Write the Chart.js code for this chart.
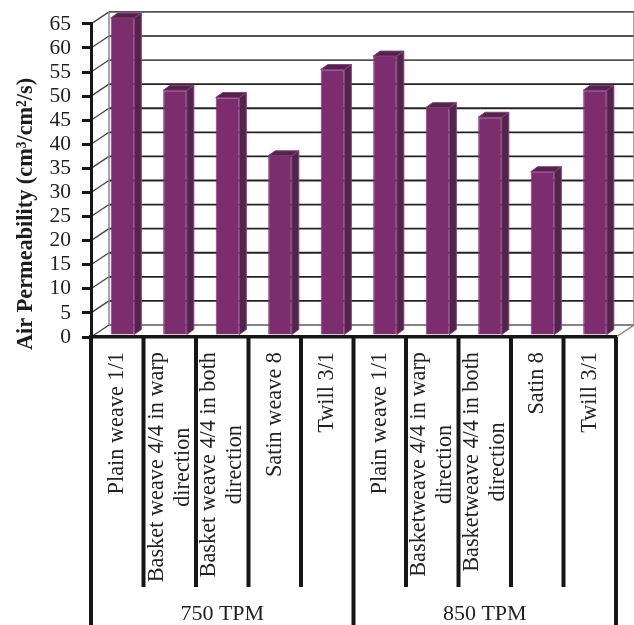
<!DOCTYPE html>
<html>
<head>
<meta charset="utf-8">
<title>Air Permeability</title>
<script src="https://cdn.jsdelivr.net/npm/chart.js@4"></script>
<style>
  html, body { margin: 0; padding: 0; background: #fff; }
  canvas { display: block; }
</style>
</head>
<body>
<canvas id="air-chart" width="634" height="625"></canvas>
<script>
// ----------------------- Data ----------------------------------
const weaveLabels = [
  ['Plain weave 1/1'],
  ['Basket weave 4/4 in warp', 'direction'],
  ['Basket weave 4/4 in both', 'direction'],
  ['Satin weave 8'],
  ['Twill 3/1'],
  ['Plain weave 1/1'],
  ['Basketweave 4/4 in warp', 'direction'],
  ['Basketweave 4/4 in both', 'direction'],
  ['Satin 8'],
  ['Twill 3/1']
];
const airPermeability = [65.8, 50.8, 49.3, 37.2, 55.1, 57.9, 47.2, 45.2, 33.9, 50.8];
const groupLabels = ['750 TPM', '850 TPM'];
const groupSizes = [5, 5];
const axisTitle = 'Air Permeability (cm³/cm²/s)';

// ----------------------- Styles ----------------------------------
const SERIF = '"Liberation Serif", "Times New Roman", serif';
const INK = '#161616';
const WALL_X = 18;     // depth of the back wall
const WALL_Y = 12;
const BAR_X = 7;       // depth of each column
const BAR_Y = 5;
const BAR_SHIFT_X = 5.25;
const BAR_SHIFT_Y = 2;

// ----------------------- 3D frame and labels ----------------------------------
// back wall, left wall and floor
function drawWalls(chart) {
  const { ctx, chartArea, scales } = chart;
  const { left, right } = chartArea;
  ctx.save();
  ctx.lineCap = 'butt';
  scales.y.ticks.forEach(tick => {
    const y = scales.y.getPixelForValue(tick.value);
    if (tick.value === 0) ctx.strokeStyle = '#85847f';
    else ctx.strokeStyle = tick.value > 50 ? '#55544f' : '#222';
    ctx.lineWidth = 1.8;
    ctx.beginPath();
    ctx.moveTo(left + WALL_X, y - WALL_Y);
    ctx.lineTo(right + WALL_X, y - WALL_Y);
    ctx.stroke();
    ctx.strokeStyle = '#444';
    ctx.lineWidth = 1.3;
    ctx.beginPath();
    ctx.moveTo(left, y);
    ctx.lineTo(left + WALL_X, y - WALL_Y);
    ctx.stroke();
  });
  const top = scales.y.getPixelForValue(65) - WALL_Y;
  const floor = scales.y.getPixelForValue(0);
  ctx.strokeStyle = '#8a8984';
  ctx.lineWidth = 1.5;
  ctx.beginPath();
  ctx.moveTo(left + WALL_X, top);
  ctx.lineTo(left + WALL_X, floor - WALL_Y);
  ctx.moveTo(right + WALL_X, top);
  ctx.lineTo(right + WALL_X, floor - WALL_Y);
  ctx.lineTo(right, floor);
  ctx.stroke();
  ctx.restore();
}

// side and top faces of the columns
function drawBarFaces(chart) {
  const { ctx } = chart;
  chart.getDatasetMeta(0).data.forEach(bar => {
    const l = bar.x - bar.width / 2;
    const r = bar.x + bar.width / 2;
    ctx.fillStyle = '#4f2649';
    ctx.strokeStyle = '#8c3a82';
    ctx.lineWidth = 1;
    ctx.beginPath();
    ctx.moveTo(r, bar.y);
    ctx.lineTo(r + BAR_X, bar.y - BAR_Y);
    ctx.lineTo(r + BAR_X, bar.base - BAR_Y);
    ctx.lineTo(r, bar.base);
    ctx.closePath();
    ctx.fill();
    ctx.stroke();
    ctx.beginPath();
    ctx.moveTo(l, bar.y);
    ctx.lineTo(l + BAR_X, bar.y - BAR_Y);
    ctx.lineTo(r + BAR_X, bar.y - BAR_Y);
    ctx.lineTo(r, bar.y);
    ctx.closePath();
    ctx.fill();
    ctx.stroke();
  });
}

// category text, read bottom to top, with each block hanging from the axis
function drawWeaveLabels(chart) {
  const { ctx, scales } = chart;
  const topY = 352;
  const lineGap = 26;
  ctx.save();
  ctx.font = '22.3px ' + SERIF;
  ctx.fillStyle = '#222';
  ctx.textAlign = 'center';
  ctx.textBaseline = 'middle';
  weaveLabels.forEach((lines, i) => {
    const x = scales.x.getPixelForValue(i);
    const longest = Math.max(...lines.map(line => ctx.measureText(line).width));
    lines.forEach((line, n) => {
      ctx.save();
      ctx.translate(x + (n - (lines.length - 1) / 2) * lineGap, topY + longest / 2);
      ctx.rotate(-Math.PI / 2);
      ctx.fillText(line, 0, 0);
      ctx.restore();
    });
  });
  ctx.restore();
}

// separators under the axis and the TPM group names
function drawGroups(chart) {
  const { ctx, scales, height } = chart;
  const shortEnd = 587;
  ctx.save();
  ctx.strokeStyle = INK;
  ctx.lineWidth = 4;
  let start = 0;
  const edges = [0];
  groupSizes.forEach(size => edges.push(edges[edges.length - 1] + size));
  for (let i = 0; i <= weaveLabels.length; i++) {
    const x = scales.x.getPixelForValue(i - 0.5);
    ctx.beginPath();
    ctx.moveTo(x, scales.y.getPixelForValue(0));
    ctx.lineTo(x, edges.includes(i) ? height : shortEnd);
    ctx.stroke();
  }
  ctx.font = '22px ' + SERIF;
  ctx.fillStyle = '#222';
  ctx.textAlign = 'center';
  ctx.textBaseline = 'middle';
  groupLabels.forEach((label, g) => {
    const from = scales.x.getPixelForValue(start - 0.5);
    const to = scales.x.getPixelForValue(start + groupSizes[g] - 0.5);
    ctx.fillText(label, (from + to) / 2, 614);
    start += groupSizes[g];
  });
  ctx.restore();
}

function drawAxisTitle(chart) {
  const { ctx } = chart;
  ctx.save();
  ctx.font = 'bold 22.3px ' + SERIF;
  ctx.fillStyle = '#1c1c1c';
  ctx.textAlign = 'center';
  ctx.textBaseline = 'middle';
  ctx.translate(26, 214);
  ctx.rotate(-Math.PI / 2);
  ctx.fillText(axisTitle, 0, 0);
  ctx.restore();
}

const frame3d = {
  id: 'frame3d',
  beforeDraw(chart) {
    drawWalls(chart);
  },
  beforeDatasetsDraw(chart) {
    // columns stand a little way in from the front of the floor
    chart.ctx.save();
    chart.ctx.translate(BAR_SHIFT_X, -BAR_SHIFT_Y);
    drawBarFaces(chart);
  },
  afterDatasetsDraw(chart) {
    chart.ctx.restore();
  },
  afterDraw(chart) {
    drawGroups(chart);
    drawWeaveLabels(chart);
    drawAxisTitle(chart);
  }
};

// ----------------------- Chart ----------------------------------
new Chart(document.getElementById('air-chart'), {
  type: 'bar',
  data: {
    labels: weaveLabels,
    datasets: [{
      data: airPermeability,
      backgroundColor: '#7b2d6e',
      borderColor: '#85337a',
      borderWidth: 1,
      barPercentage: 0.45,
      categoryPercentage: 1,
      clip: false
    }]
  },
  options: {
    responsive: false,
    animation: false,
    layout: { padding: { top: 22, right: 18, left: 0, bottom: 0 } },
    plugins: { legend: { display: false }, tooltip: { enabled: false } },
    scales: {
      x: {
        afterFit(scale) { scale.height = 288; },
        grid: { drawOnChartArea: false, drawTicks: false },
        border: { color: INK, width: 3.5 },
        ticks: { display: false }
      },
      y: {
        min: 0,
        max: 65,
        afterFit(scale) { scale.width = 91; },
        grid: { drawOnChartArea: false, tickLength: 9, tickWidth: 3, tickColor: INK },
        border: { color: INK, width: 3 },
        ticks: {
          stepSize: 5,
          autoSkip: false,
          padding: 11,
          color: '#222',
          font: { family: SERIF, size: 21.5 }
        }
      }
    }
  },
  plugins: [frame3d]
});
</script>
</body>
</html>
